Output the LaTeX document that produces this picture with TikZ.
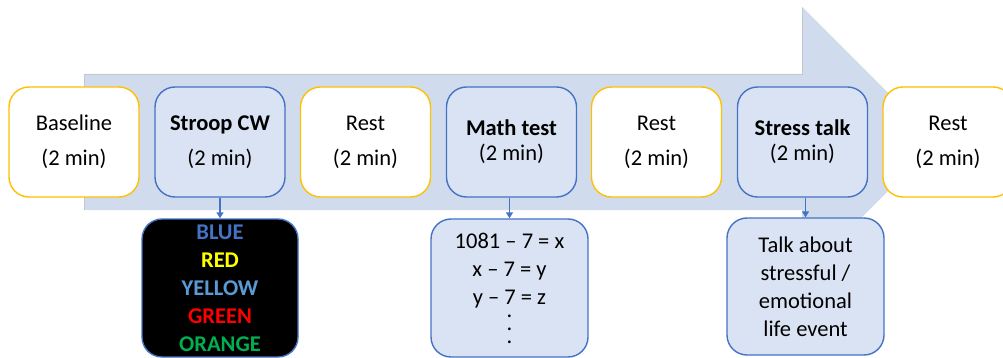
\documentclass[tikz,border=0pt]{standalone}
\usepackage{fontspec}
\setmainfont{Carlito}
\usetikzlibrary{arrows.meta}
\definecolor{ybord}{HTML}{FFC000}
\definecolor{bbord}{HTML}{4472C4}
\definecolor{bfill}{HTML}{DAE3F3}
\definecolor{arrfill}{HTML}{D0DCEE}
\definecolor{arredge}{HTML}{C4C8CE}
\definecolor{cblue}{HTML}{4472C4}
\definecolor{clblue}{HTML}{5B9BD5}
\definecolor{cyellow}{HTML}{FFFF00}
\definecolor{cred}{HTML}{FF0000}
\definecolor{cgreen}{HTML}{00B050}
\tikzset{
  stagebox/.style={rounded corners=20pt, line width=1.4pt, minimum width=130pt, minimum height=110pt, align=center, inner sep=0pt},
  restbox/.style={stagebox, draw=ybord, fill=white, font=\fontsize{22.5}{35}\selectfont},
  taskbox/.style={stagebox, draw=bbord, fill=bfill},
  wide/.style={font=\fontsize{22.5}{35}\selectfont},
  tight/.style={font=\fontsize{22.5}{25}\selectfont},
  detailbox/.style={rounded corners=20pt, line width=1.4pt, draw=bbord, minimum width=156pt, minimum height=138pt, align=center, inner sep=0pt, font=\fontsize{22.5}{28}\selectfont},
  link/.style={draw=bbord, line width=1.4pt, -{Triangle[width=7pt,length=6pt]}}
}
\begin{document}
\begin{tikzpicture}[x=1pt,y=-1pt]
\useasboundingbox (0,0) rectangle (1003,358);
\clip (0,0) rectangle (1003,358);
% big arrow
\fill[arrfill] (84,74) -- (802,74) -- (802,7) -- (937,142) -- (802,277) -- (802,210) -- (84,210) -- cycle;
\draw[arredge, line width=0.8pt] (84,210) -- (84,74) -- (802,74) -- (802,7);
\draw[arredge!60, line width=0.6pt] (802,7) -- (937,142);
% stage boxes
\node[restbox] (base) at (74,142) {Baseline\\(2 min)};
\node[taskbox, wide] (stroop) at (220,142) {\textbf{Stroop CW}\\(2 min)};
\node[restbox] (rest1) at (365.5,142) {Rest\\(2 min)};
\node[taskbox, tight] (math) at (511.5,142) {\textbf{Math test}\\(2 min)};
\node[restbox] (rest2) at (656.5,142) {Rest\\(2 min)};
\node[taskbox, tight] (stress) at (802.5,142) {\textbf{Stress talk}\\(2 min)};
\node[restbox] (rest3) at (948,142) {Rest\\(2 min)};
% detail boxes
\node[detailbox, fill=black, font=\fontsize{22.5}{28}\selectfont\bfseries] (colors) at (220,288) {%
  \textcolor{cblue}{BLUE}\\
  \textcolor{cyellow}{RED}\\
  \textcolor{clblue}{YELLOW}\\
  \textcolor{cred}{GREEN}\\
  \textcolor{cgreen}{ORANGE}};
\node[detailbox, fill=bfill, minimum width=157pt] (sums) at (509.5,288) {1081 – 7 = x\\x – 7 = y\\y – 7 = z\\[-15pt].\\[-15pt].\\[-15pt].};
\node[detailbox, fill=bfill, minimum width=157pt, minimum height=137pt] (talk) at (805.5,286.5) {Talk about\\stressful /\\emotional\\life event};
% connectors
\draw[link] (stroop.south) -- (colors.north);
\draw[link] (sums.north |- math.south) -- (sums.north);
\draw[link] (talk.north |- stress.south) -- (talk.north);
\end{tikzpicture}
\end{document}
